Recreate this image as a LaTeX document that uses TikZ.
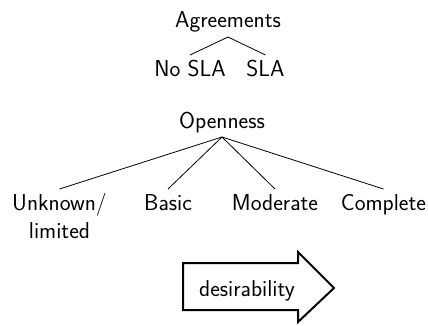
\documentclass[tikz,border=0pt]{standalone}
\begin{document}
\begin{tikzpicture}[x=1pt,y=-1pt,
  lbl/.style={font=\sffamily\fontsize{23}{28}\selectfont, inner sep=0pt, anchor=base, align=center},
  edge/.style={line width=0.8pt}]
\useasboundingbox (0,0) rectangle (428,325);
\node[lbl] (agr) at (228,27) {Agreements};
\node[lbl] (nosla) at (190,76) {No SLA};
\node[lbl] (sla) at (265.5,76) {SLA};
\draw[edge] ([yshift=21pt]nosla.base) -- ([yshift=-10pt]agr.base) -- ([yshift=21pt]sla.base);
\node[lbl] (open) at (222,128) {Openness};
\node[lbl] (unk) at (59.5,238) {Unknown/\\limited};
\node[lbl] (basic) at (168,210) {Basic};
\node[lbl] (mod) at (275,210) {Moderate};
\node[lbl] (comp) at (383.5,210) {Complete};
\draw[edge] ([yshift=-9pt]open.base) -- ([yshift=49pt]unk.base);
\foreach \n in {basic,mod,comp}
  \draw[edge] ([yshift=-9pt]open.base) -- ([yshift=21pt]\n.base);
\draw[line width=2pt, line join=miter] (183,263) -- (298,263) -- (298,252) -- (334,288) -- (298,322) -- (298,310) -- (183,310) -- cycle;
\node[lbl] (des) at (247,296) {desirability};
\end{tikzpicture}
\end{document}
